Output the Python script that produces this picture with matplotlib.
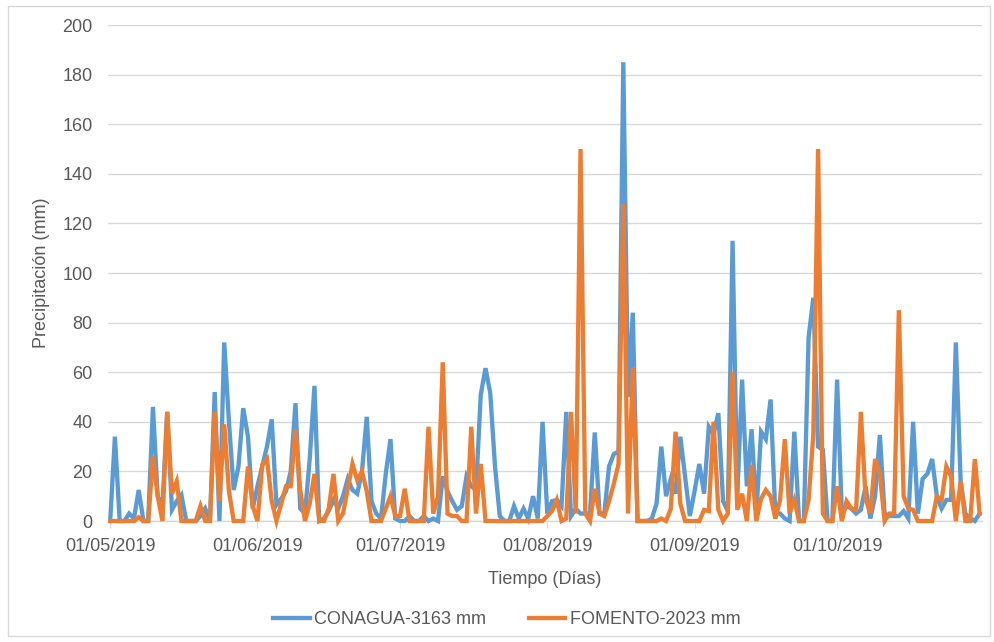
import numpy as np
import pandas as pd
import matplotlib
matplotlib.use("Agg")
import matplotlib.pyplot as plt
import matplotlib.dates as mdates
from matplotlib.patches import Rectangle

plt.rcParams["font.family"] = ["Liberation Sans", "DejaVu Sans"]

# Precipitación diaria 01/05/2019 - 31/10/2019 (mm)
fechas = pd.date_range("2019-05-01", "2019-10-31", freq="D")

conagua = [
    0, 34, 0, 0, 3, 1, 12.5, 0, 0, 46,
    10, 6, 44, 4.5, 8, 10.5, 0, 0, 0, 2,
    5, 0, 52, 0, 72, 40, 12.5, 22, 45.5, 34,
    5, 14, 22, 30, 41, 6.5, 9, 12, 20, 47.5,
    5, 3, 25, 54.5, 0, 1, 4, 8.5, 5, 10,
    17, 12.5, 11, 20, 42, 8, 3, 1, 19, 33,
    1, 0, 0, 2, 0, 0, 2, 0, 1, 0,
    18, 12, 8, 4.5, 6, 18, 14, 12.5, 51, 61.6,
    51.5, 22, 2, 0, 0, 6, 1, 5, 1, 10,
    1, 40, 3, 8, 8.5, 6, 44, 2, 5, 3,
    3, 3, 35.7, 3, 3, 22, 27, 28, 185, 50,
    84, 0, 0, 0, 1, 7, 30, 10, 17, 11,
    34, 18, 2, 12, 23, 11, 38, 35, 43.5, 8,
    4, 113, 10, 57, 14, 37, 3, 36, 33, 49,
    3, 3, 1, 0, 36, 0, 0, 74, 90, 30,
    28.7, 0, 0, 57, 3, 6, 5, 3, 4.5, 14,
    1, 10, 34.7, 3, 2, 2, 2, 4, 1, 40,
    3, 17, 19, 25, 10, 5, 8.5, 8.5, 72, 16,
    3, 1, 0, 3,
]

fomento = [
    0, 0, 0, 0, 0, 0, 1.5, 0, 0, 26,
    10, 0, 44, 11, 16, 0, 0, 0, 0, 6,
    0, 0, 44, 8, 39, 12, 0, 0, 0, 22,
    6, 0, 22.6, 25, 8, 0, 7, 14, 14, 37,
    12.5, 0, 7, 19, 0, 0, 5, 19, 0, 3,
    13, 23, 16.5, 20, 12, 0, 0, 0, 5, 10,
    2, 2, 13, 0, 0, 0, 0, 38, 3, 10,
    64, 3, 2, 2, 0, 0, 38, 3, 23, 0,
    0, 0, 0, 0, 0, 0, 0, 0, 0, 0,
    0, 0, 2, 4, 8.5, 0, 1, 44, 3, 150,
    3, 0, 13, 3, 2, 8, 15, 23, 128, 3,
    62, 0, 0, 0, 0, 0, 1, 0, 5, 36,
    7, 0, 0, 0, 0, 4.5, 4, 40, 4.5, 0,
    3, 60, 4.5, 11, 0, 22.6, 0, 9, 12.5, 10,
    1, 8.5, 33, 3, 8.5, 0, 0, 8.5, 35, 150,
    3, 0, 0, 14, 0, 8, 5, 4.5, 44, 9,
    3, 25, 19, 0, 3, 3, 85, 10, 5, 4.5,
    0, 0, 0, 0, 10, 8.5, 22, 18, 0, 16,
    0, 0, 25, 3,
]

etiqueta_conagua = "CONAGUA-3163 mm"
etiqueta_fomento = "FOMENTO-2023 mm"

gris_texto = "#595959"
gris_linea = "#d9d9d9"
tam = 13

fig = plt.figure(figsize=(9.95, 6.42), dpi=100)
ax = fig.add_axes([108 / 995, 1 - 521 / 642, (982 - 108) / 995, (521 - 25) / 642])

ax.plot(fechas, conagua, color="#5B9BD5", lw=3.1, label=etiqueta_conagua,
        clip_on=False, solid_joinstyle="miter", zorder=3)
ax.plot(fechas, fomento, color="#ED7D31", lw=3.1, label=etiqueta_fomento,
        clip_on=False, solid_joinstyle="miter", zorder=4)

ax.set_ylim(0, 200)
ax.set_yticks(np.arange(0, 201, 20))
ax.set_xlim(fechas[0] - pd.Timedelta(hours=11), fechas[-1] + pd.Timedelta(hours=12))
meses = pd.to_datetime(["2019-05-01", "2019-06-01", "2019-07-01",
                        "2019-08-01", "2019-09-01", "2019-10-01"])
ax.set_xticks(meses)
ax.xaxis.set_major_formatter(mdates.DateFormatter("%d/%m/%Y"))

ax.grid(axis="y", color=gris_linea, lw=1)
ax.set_axisbelow(True)
for lado in ["top", "right", "left"]:
    ax.spines[lado].set_visible(False)
ax.spines["bottom"].set_color(gris_linea)
ax.spines["bottom"].set_linewidth(1)

ax.tick_params(axis="y", length=0, pad=11, labelsize=tam, labelcolor=gris_texto)
ax.tick_params(axis="x", length=5, color=gris_linea, pad=7, labelsize=tam,
               labelcolor=gris_texto)

ax.set_ylabel("Precipitación (mm)", fontsize=tam, color=gris_texto, labelpad=9)
ax.set_xlabel("Tiempo (Días)", fontsize=tam, color=gris_texto, labelpad=12)

fig.legend(loc="center", bbox_to_anchor=(507 / 995, 1 - 620 / 642), ncol=2,
           frameon=False, fontsize=tam, labelcolor=gris_texto,
           handlelength=2.0, handletextpad=0.25, columnspacing=2.4)

# borde del área del gráfico
fig.patches.append(Rectangle((8 / 995, 6 / 642), 982 / 995, 630 / 642,
                             transform=fig.transFigure, fill=False,
                             edgecolor=gris_linea, lw=1))

fig.savefig("out.png", dpi=100)
